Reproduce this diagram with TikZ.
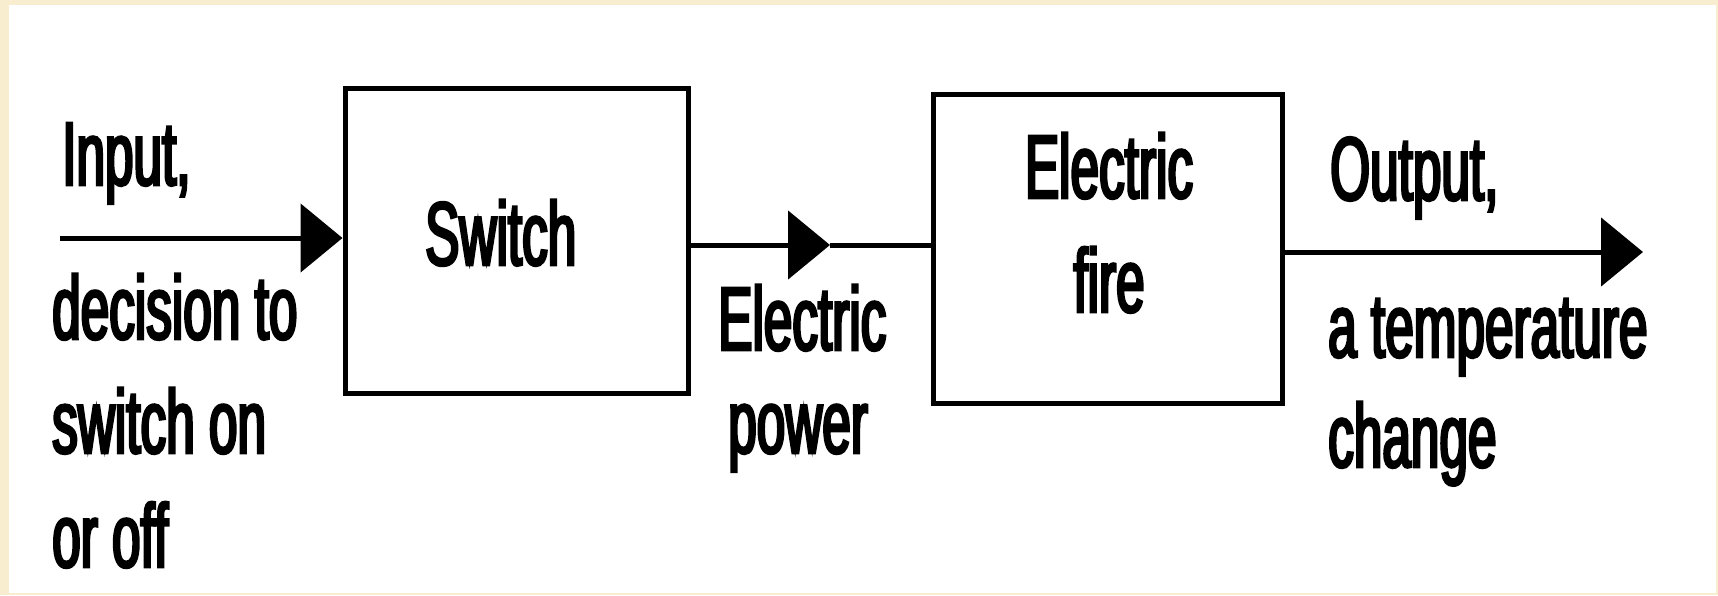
\documentclass[tikz,border=0pt]{standalone}
\usepackage{fontspec}
\setmainfont{Liberation Sans}[FakeStretch=0.57,FakeBold=3]
\usetikzlibrary{arrows.meta}
\definecolor{paper}{HTML}{F9EDCF}
\tikzset{
  blockbox/.style={draw=black,line width=5pt,rectangle,inner sep=0pt},
  flow/.style={line width=5pt,-{Triangle[length=42pt,width=68pt]}},
  plain/.style={line width=5pt},
  lbl/.style={inner sep=0pt,anchor=base west,align=left,font=\fontsize{90}{114}\selectfont}
}
\begin{document}
\begin{tikzpicture}[x=1pt,y=-1pt]
\fill[paper] (0,0) rectangle (1718,595);
\fill[white] (9,5) rectangle (1716,593);
\useasboundingbox (0,0) rectangle (1718,595);
\node[blockbox,minimum width=343pt,minimum height=305pt] (sw) at (516.5,240.5) {};
\node[blockbox,minimum width=349pt,minimum height=309pt] (fire) at (1107.5,248.5) {};
\node[lbl] (swt) at (425,265) {Switch};
\node[lbl,align=center,anchor=base] (firet) at (1109,312) {Electric\\fire};
\node[lbl] (inl) at (62,185) {Input,};
\node[lbl] (inl2) at (52,567) {decision to\\switch on\\or off};
\node[lbl] (pw) at (718,453) {Electric\\[-11pt]\hspace*{10pt}power};
\node[lbl] (outl) at (1330,200) {Output,};
\node[lbl] (outl2) at (1328,467) {a temperature\\[-4pt]change};
\coordinate (in) at (60,238);
\coordinate (m) at (830,245);
\coordinate (out) at (1643,252);
\draw[flow] (in) -- (sw.west |- in);
\draw[flow] (sw.east |- m) -- (m);
\draw[plain] (m) -- (fire.west |- m);
\draw[flow] (fire.east |- out) -- (out);
\end{tikzpicture}
\end{document}
